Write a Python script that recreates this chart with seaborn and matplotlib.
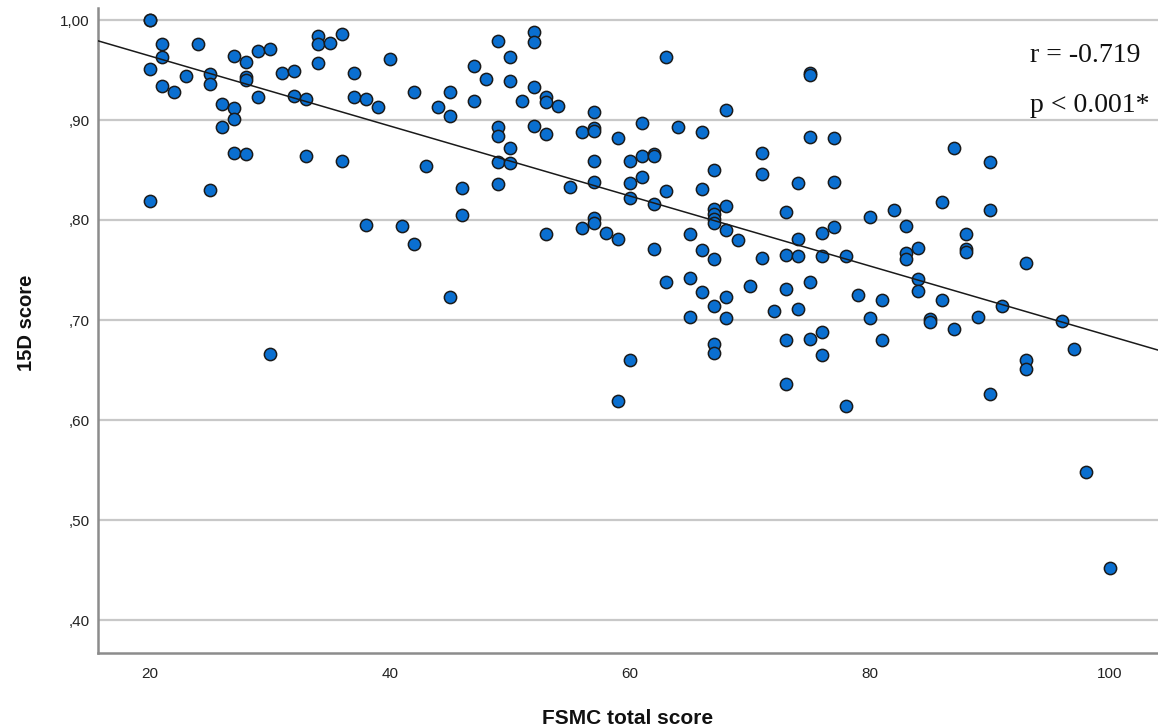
import matplotlib
matplotlib.use("Agg")
import matplotlib.pyplot as plt
import seaborn as sns
import pandas as pd

# FSMC total score (x) and 15D score (y), grouped by x value
fsmc_values = [20, 21, 22, 23, 24, 25, 26, 27, 28, 29, 30, 31, 32, 33, 34, 35, 36, 37, 38, 39,
               40, 41, 42, 43, 44, 45, 46, 47, 48, 49, 50, 51, 52, 53, 54, 55, 56, 57, 58, 59,
               60, 61, 62, 63, 64, 65, 66, 67, 68, 69, 70, 71, 72, 73, 74, 75, 76, 77, 78, 79,
               80, 81, 82, 83, 84, 85, 86, 87, 88, 89, 90, 91, 93, 96, 97, 98, 100]
score_15d = [
    [1.000, 1.000, 0.951, 0.819],          # 20
    [0.976, 0.963, 0.934],                 # 21
    [0.928],                               # 22
    [0.944],                               # 23
    [0.976],                               # 24
    [0.946, 0.936, 0.830],                 # 25
    [0.916, 0.893],                        # 26
    [0.964, 0.912, 0.901, 0.867],          # 27
    [0.958, 0.943, 0.940, 0.866],          # 28
    [0.969, 0.923],                        # 29
    [0.971, 0.666],                        # 30
    [0.947],                               # 31
    [0.949, 0.924],                        # 32
    [0.921, 0.864],                        # 33
    [0.984, 0.976, 0.957],                 # 34
    [0.977],                               # 35
    [0.986, 0.859],                        # 36
    [0.947, 0.923],                        # 37
    [0.921, 0.795],                        # 38
    [0.913],                               # 39
    [0.961],                               # 40
    [0.794],                               # 41
    [0.928, 0.776],                        # 42
    [0.854],                               # 43
    [0.913],                               # 44
    [0.928, 0.904, 0.723],                 # 45
    [0.832, 0.805],                        # 46
    [0.954, 0.919],                        # 47
    [0.941],                               # 48
    [0.979, 0.893, 0.884, 0.858, 0.836],   # 49
    [0.963, 0.939, 0.872, 0.857],          # 50
    [0.919],                               # 51
    [0.988, 0.978, 0.933, 0.894],          # 52
    [0.923, 0.918, 0.886, 0.786],          # 53
    [0.914],                               # 54
    [0.833],                               # 55
    [0.888, 0.792],                        # 56
    [0.908, 0.892, 0.889, 0.859, 0.838, 0.802, 0.797],  # 57
    [0.787],                               # 58
    [0.882, 0.781, 0.619],                 # 59
    [0.859, 0.837, 0.822, 0.660],          # 60
    [0.897, 0.864, 0.843],                 # 61
    [0.866, 0.864, 0.816, 0.771],          # 62
    [0.963, 0.829, 0.738],                 # 63
    [0.893],                               # 64
    [0.786, 0.742, 0.703],                 # 65
    [0.888, 0.831, 0.770, 0.728],          # 66
    [0.850, 0.811, 0.806, 0.801, 0.797, 0.761, 0.714, 0.676, 0.667],  # 67
    [0.910, 0.814, 0.790, 0.723, 0.702],   # 68
    [0.780],                               # 69
    [0.734],                               # 70
    [0.867, 0.846, 0.762],                 # 71
    [0.709],                               # 72
    [0.808, 0.765, 0.731, 0.680, 0.636],   # 73
    [0.837, 0.781, 0.764, 0.711],          # 74
    [0.947, 0.945, 0.883, 0.738, 0.681],   # 75
    [0.787, 0.764, 0.688, 0.665],          # 76
    [0.882, 0.838, 0.793],                 # 77
    [0.764, 0.614],                        # 78
    [0.725],                               # 79
    [0.803, 0.702],                        # 80
    [0.720, 0.680],                        # 81
    [0.810],                               # 82
    [0.794, 0.767, 0.761],                 # 83
    [0.772, 0.741, 0.729],                 # 84
    [0.701, 0.698],                        # 85
    [0.818, 0.720],                        # 86
    [0.872, 0.691],                        # 87
    [0.786, 0.771, 0.768],                 # 88
    [0.703],                               # 89
    [0.858, 0.810, 0.626],                 # 90
    [0.714],                               # 91
    [0.757, 0.660, 0.651],                 # 93
    [0.699],                               # 96
    [0.671],                               # 97
    [0.548],                               # 98
    [0.452],                               # 100
]

x_ticks = [20, 40, 60, 80, 100]
x_tick_labels = ["20", "40", "60", "80", "100"]
y_ticks = [0.40, 0.50, 0.60, 0.70, 0.80, 0.90, 1.00]
y_tick_labels = [",40", ",50", ",60", ",70", ",80", ",90", "1,00"]
x_label = "FSMC total score"
y_label = "15D score"
stat_lines = ["r = -0.719", "p < 0.001*"]

rows = []
for xv, ys in zip(fsmc_values, score_15d):
    for yv in ys:
        rows.append((xv, yv))
df = pd.DataFrame(rows, columns=["fsmc", "d15"])

sns.set_style("white")
plt.rcParams["font.family"] = ["Liberation Sans", "DejaVu Sans"]

W, H = 1158, 726
fig = plt.figure(figsize=(W / 100, H / 100), dpi=100)
ax = fig.add_axes([98 / W, 73 / H, 1 - 98 / W, 645 / H])
xlim = (15.667, 104.0)
ylim = (0.367, 1.012)
ax.set_xlim(*xlim)
ax.set_ylim(*ylim)

for yt in y_ticks:
    ax.axhline(yt, color="#c8c8c8", lw=1.6, zorder=0)

sns.scatterplot(data=df, x="fsmc", y="d15", ax=ax, s=78, color="#0a6fd0",
                edgecolor="#1a1a1a", linewidth=1.1, zorder=3, legend=False)
sns.regplot(data=df, x="fsmc", y="d15", ax=ax, scatter=False, ci=None,
            truncate=False, line_kws=dict(color="#1a1a1a", lw=1.1, zorder=4))
ax.set_xlim(*xlim)
ax.set_ylim(*ylim)

ax.set_xticks(x_ticks)
ax.set_xticklabels(x_tick_labels)
ax.set_yticks(y_ticks)
ax.set_yticklabels(y_tick_labels)
ax.tick_params(axis="both", length=0, labelsize=11, labelcolor="#222222")
ax.tick_params(axis="y", pad=6)
ax.tick_params(axis="x", pad=10)

for side in ["top", "right"]:
    ax.spines[side].set_visible(False)
for side in ["left", "bottom"]:
    ax.spines[side].set_color("#8c8c8c")
    ax.spines[side].set_linewidth(1.8)

ax.set_xlabel(x_label, fontsize=15, fontweight="bold", color="#111111")
ax.set_ylabel(y_label, fontsize=14.5, fontweight="bold", color="#111111")
ax.xaxis.set_label_coords(0.5, (653 - 709) / 645)
ax.yaxis.set_label_coords((36 - 98) / 1060, (653 - 323) / 645)

serif = ["Liberation Serif", "DejaVu Serif"]
fig.text(1030 / W, 1 - 55 / H, stat_lines[0], fontsize=20, family=serif,
         va="center", ha="left", color="#111111")
fig.text(1030 / W, 1 - 105 / H, stat_lines[1], fontsize=20, family=serif,
         va="center", ha="left", color="#111111")

fig.savefig("out.png", dpi=100)
